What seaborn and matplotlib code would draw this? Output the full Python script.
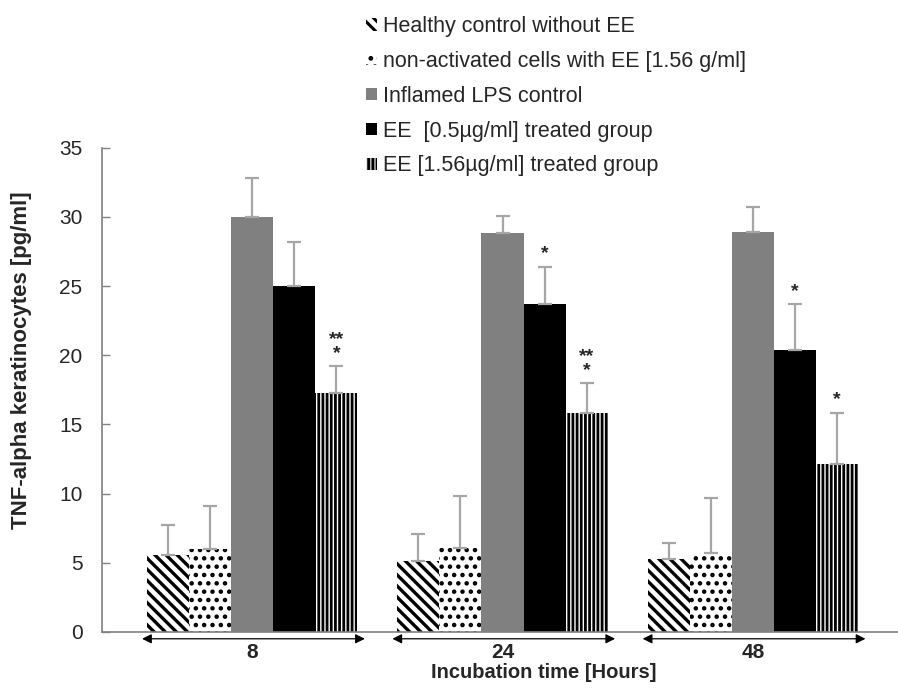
import numpy as np
import pandas as pd
import matplotlib
matplotlib.use('Agg')
import matplotlib.pyplot as plt
import matplotlib.transforms as mtransforms
from matplotlib.patches import Patch
import seaborn as sns

sns.set_style('white')
plt.rcParams['font.family'] = ['Liberation Sans', 'DejaVu Sans']
plt.rcParams['hatch.linewidth'] = 2.2

# Data
times = ['8', '24', '48']
groups = ['Healthy control without EE',
          'non-activated cells with EE [1.56 g/ml]',
          'Inflamed LPS control',
          'EE  [0.5µg/ml] treated group',
          'EE [1.56µg/ml] treated group']
healthy = [5.6, 5.1, 5.3]
nonact = [6.0, 6.1, 5.7]
lps = [30.0, 28.85, 28.9]
ee05 = [25.0, 23.7, 20.4]
ee156 = [17.3, 15.8, 12.15]
healthy_sd = [2.1, 2.0, 1.1]
nonact_sd = [3.1, 3.7, 4.0]
lps_sd = [2.8, 1.2, 1.8]
ee05_sd = [3.2, 2.7, 3.3]
ee156_sd = [1.9, 2.2, 3.7]
stars = {(3, 1): '*', (3, 2): '*', (4, 0): '**\n*', (4, 1): '**\n*', (4, 2): '*'}

colors = ['white', 'white', '#808080', 'black', 'white']
hatches = ['\\\\\\', '..', '', '', '||||']
hatch_lw = [2.4, 2.0, 1.0, 1.0, 2.0]

values = [healthy, nonact, lps, ee05, ee156]
sds = [healthy_sd, nonact_sd, lps_sd, ee05_sd, ee156_sd]

df = pd.DataFrame({
    'time': np.repeat([times], len(groups), axis=0).ravel(),
    'group': np.repeat(groups, len(times)),
    'value': np.concatenate(values),
})

fig = plt.figure(figsize=(8.98, 6.88), dpi=100)
ax = fig.add_axes([0.1136, 0.0814, 0.8864, 0.704])

sns.barplot(data=df, x='time', y='value', hue='group', order=times,
            hue_order=groups, palette=colors, width=0.84, gap=0,
            errorbar=None, ax=ax, legend=False)

bar_conts = list(ax.containers)
for i, cont in enumerate(bar_conts):
    for j, bar in enumerate(cont.patches):
        bar.set_hatch(hatches[i])
        if hasattr(bar, 'set_hatch_linewidth'):
            bar.set_hatch_linewidth(hatch_lw[i])
        bar.set_edgecolor('black')
        bar.set_linewidth(0)
        cx = bar.get_x() + bar.get_width() / 2
        top = bar.get_height()
        ax.errorbar(cx, top, yerr=[[0], [sds[i][j]]], fmt='none',
                    ecolor='#a6a6a6', elinewidth=1.6, capsize=5, capthick=1.6,
                    zorder=1)
        if (i, j) in stars:
            ax.text(cx, top + sds[i][j] + 0.3, stars[(i, j)], ha='center',
                    va='bottom', fontsize=14, fontweight='bold',
                    linespacing=0.75)

# double-headed arrows under each time group
trans = mtransforms.blended_transform_factory(ax.transData, ax.transAxes)
for k in range(len(times)):
    ax.annotate('', xy=(k - 0.44, -0.014), xytext=(k + 0.45, -0.014),
                xycoords=trans, textcoords=trans, annotation_clip=False,
                arrowprops=dict(arrowstyle='<|-|>', color='black', lw=0.9,
                                mutation_scale=14, shrinkA=0, shrinkB=0))

ax.set_xlim(-0.6, 2.58)
ax.set_ylim(0, 35)
ax.set_yticks(range(0, 36, 5))
ax.tick_params(axis='y', labelsize=15, length=6, width=1, color='#808080',
               direction='in', left=True, pad=14)
ax.tick_params(axis='x', labelsize=15, length=0, pad=8)
for lab in ax.get_xticklabels():
    lab.set_fontweight('bold')
ax.set_xlabel('Incubation time [Hours]', fontsize=14.5, fontweight='bold',
              va='top')
ax.xaxis.set_label_coords(0.555, -0.064)
ax.set_ylabel('TNF-alpha keratinocytes [pg/ml]', fontsize=16,
              fontweight='bold')
ax.yaxis.set_label_coords(-0.088, 0.562)
sns.despine(ax=ax, top=True, right=True)
for s in ['left', 'bottom']:
    ax.spines[s].set_color('#808080')
    ax.spines[s].set_linewidth(1.2)

handles = [Patch(facecolor=colors[i], hatch=hatches[i], edgecolor='black',
                 linewidth=0) for i in range(len(groups))]
fig.legend(handles, groups, loc='upper left', bbox_to_anchor=(0.4076, 0.9765),
           frameon=False, fontsize=15.5, handlelength=0.5, handleheight=0.5,
           handletextpad=0.3, labelspacing=0.64, borderaxespad=0, borderpad=0)

fig.savefig('out.png', dpi=100)
